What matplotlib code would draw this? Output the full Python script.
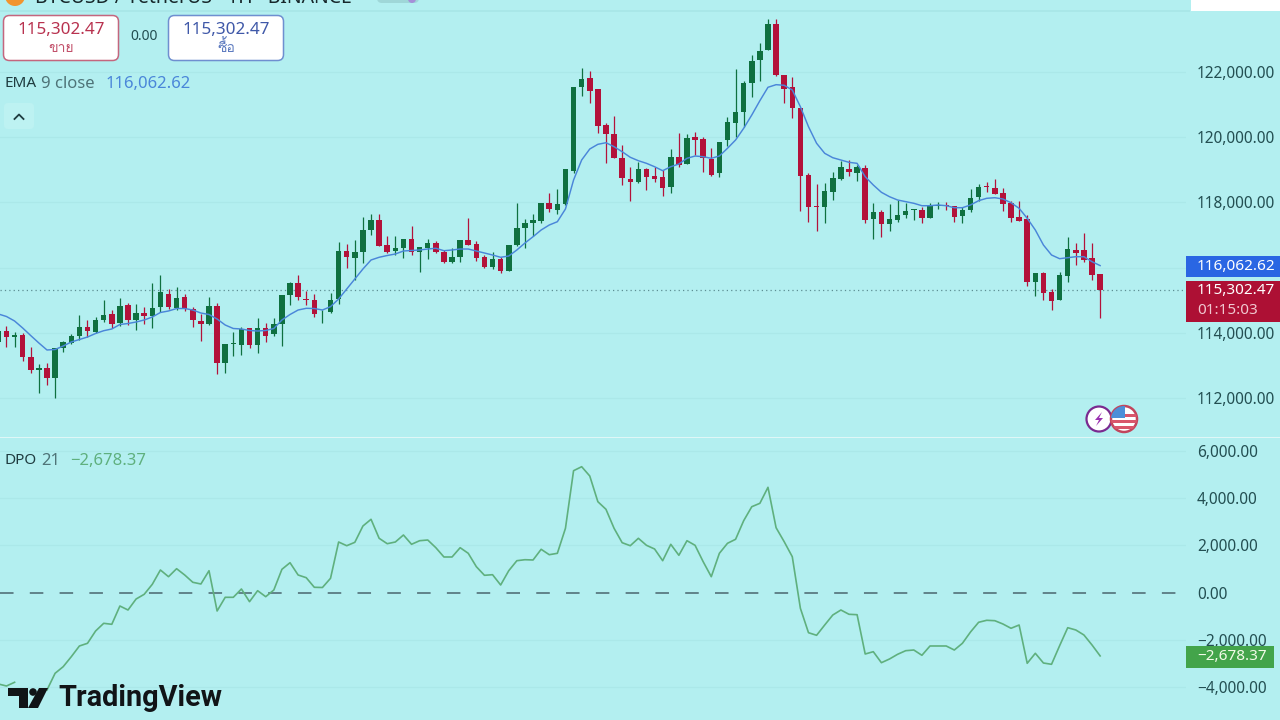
import numpy as np
import matplotlib
matplotlib.use('Agg')
import matplotlib.pyplot as plt
from matplotlib import font_manager
from matplotlib.ft2font import FT2Font
from matplotlib.patches import Circle, FancyBboxPatch, Polygon, Rectangle

# look for any installed family that carries Thai letters
thai_fonts = []
for fe in font_manager.fontManager.ttflist:
    try:
        if 0x0E02 in FT2Font(fe.fname).get_charmap() and fe.name not in thai_fonts:
            thai_fonts.append(fe.name)
    except Exception:
        pass
plt.rcParams['font.family'] = ['Noto Sans'] + thai_fonts[:1] + ['DejaVu Sans']

opens = [113720, 114060, 113860, 113940, 113270, 112860, 112910, 112610, 113540, 113700,
         113900, 114180, 114040, 114390, 114570, 114290, 114860, 114390, 114610, 114520,
         114780, 115200, 114750, 115100, 114740, 114370, 114260, 114820, 113070, 113660,
         113630, 114140, 113630, 114140, 113960, 114260, 115160, 115530, 115040, 115010,
         114600, 114630, 115030, 116500, 116300, 116490, 117150, 117460, 116690, 116510,
         116600, 116890, 116490, 116590, 116760, 116490, 116170, 116320, 116860, 116730,
         116320, 116030, 116260, 115900, 116690, 117210, 117370, 117440, 117980, 117770,
         117950, 118970, 121530, 121830, 121470, 120380, 120100, 119360, 118710, 118630,
         119010, 118810, 118780, 118470, 119400, 119170, 120010, 119940, 119340, 118890,
         119900, 120450, 120760, 121650, 122370, 122660, 123480, 121920, 121530, 120910,
         118840, 117890, 117870, 118330, 118720, 119020, 118900, 119050, 117480, 117720,
         117340, 117460, 117610, 117780, 117780, 117530, 117890, 117910, 117880, 117570,
         117770, 118170, 118490, 118450, 118280, 117990, 117540, 117490, 115550, 115840,
         115250, 115020, 115750, 116530, 116530, 116300, 115800]
highs = [114150, 114210, 114040, 113990, 113570, 113040, 113080, 113540, 113750, 113960,
         114550, 114390, 114480, 115010, 114700, 115080, 114910, 114880, 114800, 115540,
         115770, 115340, 115400, 115180, 114780, 114580, 115090, 114910, 113670, 114020,
         114190, 114150, 114450, 114290, 114450, 115170, 115570, 115770, 115280, 115180,
         114700, 115210, 116800, 116720, 116850, 117560, 117640, 117640, 116970, 116970,
         116890, 117290, 116640, 116870, 116820, 116540, 116590, 116850, 117530, 116820,
         116390, 116490, 116320, 116690, 117990, 117480, 117640, 117980, 118280, 118410,
         119030, 121540, 122110, 122040, 121490, 120430, 120660, 119760, 119080, 119250,
         119050, 119080, 118990, 119630, 120130, 120100, 120150, 120020, 119660, 119860,
         120630, 122080, 121720, 122520, 122880, 123630, 123630, 121920, 121860, 120910,
         118890, 118560, 118600, 118940, 119280, 119300, 119150, 119150, 117990, 117770,
         117940, 118070, 117990, 117800, 117870, 117970, 118020, 118020, 117900, 117850,
         118400, 118560, 118620, 118710, 118430, 118050, 118050, 117610, 115830, 115880,
         115350, 115880, 116930, 116760, 117050, 116760, 115800]
lows = [113660, 113570, 113560, 113150, 112760, 112150, 112390, 111990, 113420, 113660,
        113780, 113880, 113990, 114340, 114140, 114210, 114240, 114090, 114260, 114160,
        114650, 114730, 114700, 114680, 114190, 113750, 114240, 112730, 112760, 113300,
        113320, 113530, 113390, 113710, 113900, 113600, 114850, 115010, 114850, 114500,
        114310, 114600, 114880, 115990, 115620, 116130, 117000, 116670, 116460, 116390,
        116300, 116390, 115880, 116270, 116460, 116150, 116150, 116170, 116690, 116210,
        115980, 115950, 115830, 115900, 116660, 116610, 116970, 117380, 117720, 117640,
        117930, 118900, 121270, 121040, 120120, 119220, 119360, 118540, 118040, 118590,
        118380, 118630, 118200, 118280, 119080, 119170, 119450, 118920, 118820, 118790,
        119720, 120010, 120320, 121220, 121730, 122660, 121880, 121040, 120580, 117730,
        117400, 117130, 117380, 118070, 118690, 118810, 118670, 117380, 116880, 116930,
        117130, 117410, 117530, 117460, 117360, 117510, 117790, 117770, 117400, 117370,
        117700, 118050, 118330, 118250, 117740, 117410, 117430, 115450, 115140, 115010,
        114700, 115010, 115550, 116080, 116180, 115620, 114450]
closes = [114060, 113860, 113940, 113270, 112860, 112910, 112610, 113530, 113710, 113900,
          114170, 114070, 114390, 114560, 114270, 114820, 114390, 114600, 114520, 114760,
          115240, 114780, 115070, 114730, 114390, 114280, 114830, 113070, 113670, 113680,
          114130, 113620, 114140, 113910, 114260, 115160, 115530, 115090, 115020, 114580,
          114620, 115000, 116520, 116340, 116490, 117150, 117450, 116670, 116480, 116590,
          116890, 116480, 116620, 116750, 116480, 116170, 116320, 116850, 116690, 116300,
          116030, 116260, 115900, 116690, 117210, 117380, 117450, 117970, 117800, 117950,
          119020, 121530, 121790, 121410, 120350, 120090, 119360, 118740, 118640, 119010,
          118770, 118720, 118430, 119390, 119150, 119970, 119920, 119350, 118850, 119860,
          120470, 120760, 121650, 122350, 122650, 123480, 121910, 121490, 120890, 118800,
          117870, 117860, 118350, 118740, 119080, 118930, 119080, 117460, 117720, 117340,
          117480, 117610, 117750, 117800, 117530, 117890, 117910, 117880, 117560, 117780,
          118150, 118480, 118460, 118260, 117960, 117530, 117440, 115550, 115830, 115210,
          114990, 115770, 116560, 116450, 116230, 115770, 115302.47]
ema9 = [114578, 114501, 114363, 114148, 113915, 113688, 113474, 113489, 113596, 113719,
        113796, 113872, 113980, 114065, 114118, 114256, 114286, 114332, 114394, 114486,
        114624, 114670, 114746, 114746, 114700, 114608, 114562, 114424, 114240, 114133,
        114118, 114072, 114056, 114072, 114133, 114394, 114562, 114700, 114752, 114746,
        114700, 114802, 115038, 115344, 115651, 115958, 116234, 116317, 116372, 116418,
        116510, 116525, 116541, 116571, 116593, 116519, 116541, 116571, 116571, 116510,
        116448, 116387, 116317, 116356, 116541, 116755, 116948, 117154, 117307, 117408,
        117798, 118687, 119301, 119638, 119782, 119831, 119709, 119555, 119384, 119279,
        119199, 119095, 118973, 119095, 119178, 119353, 119423, 119402, 119353, 119423,
        119660, 119914, 120273, 120681, 121120, 121531, 121611, 121592, 121448, 120935,
        120322, 119813, 119506, 119371, 119301, 119230, 119199, 118789, 118534, 118310,
        118175, 118074, 118022, 117973, 117899, 117899, 117921, 117899, 117838, 117838,
        117921, 118053, 118126, 118144, 118105, 117991, 117819, 117513, 117154, 116694,
        116387, 116274, 116304, 116335, 116335, 116182, 116062.62]
dpo21 = [-3868, -3953, -3796, np.nan, np.nan, np.nan, -4123, -3415, -3135, -2712,
         -2258, -2144, -1623, -1297, -1339, -564, -733, -267, -68, 356,
         962, 678, 1017, 750, 441, 369, 932, -775, -195, -195,
         157, -381, 85, -169, 114, 991, 1271, 750, 636, 229,
         220, 610, 2148, 1991, 2135, 2826, 3110, 2305, 2076, 2148,
         2445, 2051, 2203, 2233, 1907, 1513, 1513, 1907, 1669, 1102,
         737, 763, 326, 932, 1356, 1398, 1386, 1839, 1610, 1669,
         2729, 5169, 5339, 4945, 3856, 3534, 2729, 2119, 1991, 2305,
         2008, 1852, 1356, 2051, 1585, 2203, 2008, 1313, 678, 1669,
         2093, 2263, 3051, 3644, 3788, 4466, 2754, 2161, 1525, -661,
         -1695, -1805, -1369, -945, -733, -915, -932, -2597, -2500, -2966,
         -2809, -2610, -2457, -2428, -2652, -2258, -2258, -2258, -2428, -2144,
         -1665, -1254, -1169, -1186, -1326, -1508, -1369, -2991, -2568, -2979,
         -3034, -2246, -1483, -1580, -1792, -2216, -2678.37]

price_ticks = [112000, 114000, 118000, 120000, 122000]
price_grid = [112000, 114000, 116000, 118000, 120000, 122000]
dpo_ticks = [-4000, -2000, 0, 2000, 4000, 6000]

bg = '#b3eff0'
grid_col = '#abe8e9'
up = '#0f7040'
down = '#b3123a'
txt = '#234f52'
W, H = 1280, 720


def fmt(v):
    return f'{v:,.2f}'.replace('-', '\u2212')


fig = plt.figure(figsize=(12.8, 7.2), dpi=100, facecolor=bg)
ax_p = fig.add_axes([0, 1 - 436 / H, 1186 / W, 436 / H], facecolor=bg)
ax_d = fig.add_axes([0, 0, 1186 / W, 1 - 438 / H], facecolor=bg)

idx = np.arange(len(closes))
o = np.array(opens, dtype=float)
c = np.array(closes, dtype=float)
is_up = c >= o
colors = [up if u else down for u in is_up]

# price pane
ax_p.vlines(idx, lows, highs, colors=colors, linewidth=0.9, zorder=2)
ax_p.bar(idx, np.abs(c - o), bottom=np.minimum(o, c), width=0.68, color=colors, zorder=3)
ax_p.plot(idx, ema9, color='#4a86d9', linewidth=1.05, zorder=4)
ax_p.axhline(closes[-1], color='#5d8f93', linewidth=0.9, linestyle=(0, (1, 2.5)), zorder=1)
for g in price_grid:
    ax_p.axhline(g, color=grid_col, linewidth=0.9, zorder=0)
ax_p.set_xlim(0.2, 146.6)
ax_p.set_ylim(110836, 124208)
ax_p.set_yticks(price_ticks)
ax_p.set_yticklabels([fmt(v) for v in price_ticks])

# DPO pane
ax_d.plot(idx, dpo21, color='#5fb07e', linewidth=1.2, zorder=3)
ax_d.axhline(0, color='#5a7a82', linewidth=1.3, linestyle=(0, (7.5, 9)), zorder=2)
for g in dpo_ticks:
    if g != 0:
        ax_d.axhline(g, color=grid_col, linewidth=0.9, zorder=0)
ax_d.set_xlim(0.2, 146.6)
ax_d.set_ylim(-5394, 6555)
ax_d.set_yticks(dpo_ticks)
ax_d.set_yticklabels([fmt(v) for v in dpo_ticks])

for ax in (ax_p, ax_d):
    for s in ax.spines.values():
        s.set_visible(False)
    ax.set_xticks([])
    ax.yaxis.tick_right()
    ax.tick_params(axis='y', length=0, pad=8, labelsize=11.1, labelcolor=txt)

# overlay in pixel coordinates for the tags, buttons and logo
ov = fig.add_axes([0, 0, 1, 1], facecolor='none')
ov.set_xlim(0, W)
ov.set_ylim(H, 0)
ov.axis('off')

ov.add_patch(Rectangle((0, 436.5), W, 1.8, color='#dff7f7', lw=0))
ov.add_patch(Rectangle((0, 10), 1190, 1.5, color='#a9e7e8', lw=0))

# cut off header strip
ov.add_patch(Circle((15, -4), 10, color='#f2952f', lw=0))
ov.text(35, -2, 'BTCUSD / TetherUS \u00b7 1H \u00b7 BINANCE', fontsize=14, color='#17282b',
        va='center', ha='left')
ov.add_patch(FancyBboxPatch((377, -8), 42, 11, boxstyle='round,pad=0,rounding_size=5',
                            fc='#9fd7d8', ec='none'))
ov.add_patch(Circle((412, -1), 4, color='#a58fd8', lw=0))
ov.add_patch(Rectangle((1191, 0), 89, 10.5, color='white', lw=0))

# sell / buy buttons
ov.add_patch(FancyBboxPatch((3.5, 15.5), 115, 45, boxstyle='round,pad=0,rounding_size=6',
                            fc='white', ec='#c4667e', lw=1.1))
ov.add_patch(FancyBboxPatch((168.5, 15.5), 115, 45, boxstyle='round,pad=0,rounding_size=6',
                            fc='white', ec='#6f8fd0', lw=1.1))
ov.text(61, 30, fmt(closes[-1]), fontsize=12.3, color='#b8324f', ha='center', va='center',
        fontweight='medium')
ov.text(61, 48, '\u0e02\u0e32\u0e22', fontsize=10, color='#c2506a', ha='center', va='center')
ov.text(226, 30, fmt(closes[-1]), fontsize=12.3, color='#3f58a8', ha='center', va='center',
        fontweight='medium')
ov.text(226, 48, '\u0e0b\u0e37\u0e49\u0e2d', fontsize=10, color='#5f7cc0', ha='center', va='center')
ov.text(144, 37, '0.00', fontsize=10, color=txt, ha='center', va='center')

# legends
ov.text(4, 83.5, 'EMA', fontsize=11, color='#1f3c40', va='center')
ov.text(41, 83.5, '9 close', fontsize=12, color='#4f7478', va='center')
ov.text(106, 83.5, fmt(ema9[-1]), fontsize=12, color='#4a86d9', va='center')
ov.add_patch(FancyBboxPatch((4, 103), 30, 26, boxstyle='round,pad=0,rounding_size=4',
                            fc='#bdf2f2', ec='none'))
ov.plot([14.5, 19, 23.5], [119, 114.5, 119], color='#1f3c40', lw=1.3)
ov.text(4, 461, 'DPO', fontsize=11, color='#1f3c40', va='center')
ov.text(41, 461, '21', fontsize=12, color='#4f7478', va='center')
ov.text(70, 461, fmt(dpo21[-1]), fontsize=12, color='#5fb07e', va='center')

# scale tags
ov.add_patch(Rectangle((1186, 256), 94, 21, color='#2a66e3', lw=0))
ov.text(1197, 266.5, fmt(ema9[-1]), fontsize=11, color='white', va='center', fontweight='bold')
ov.add_patch(Rectangle((1186, 281), 94, 41, color='#ad1034', lw=0))
ov.text(1197, 291, fmt(closes[-1]), fontsize=11, color='white', va='center', fontweight='bold')
ov.text(1197, 310, '01:15:03', fontsize=11, color='#f0c8d0', va='center')
ov.add_patch(Rectangle((1186, 646), 88, 22, color='#43a44a', lw=0))
ov.text(1197, 656.5, fmt(dpo21[-1]), fontsize=11, color='#f2fbe8', va='center', fontweight='bold')

# event badges
ov.add_patch(Circle((1099, 419), 12.5, fc='white', ec='#7a2a90', lw=1.6))
ov.add_patch(Polygon([(1102, 412), (1095, 420), (1099, 420), (1096, 426), (1103, 418), (1099, 418)],
                     color='#9a30b0', lw=0))
flag = Circle((1124, 419), 13, fc='white', ec='#c2455c', lw=1.8, zorder=3)
ov.add_patch(flag)
for top in (414, 420, 426):
    st = Rectangle((1110, top), 28, 3, color='#d9566b', lw=0, zorder=4)
    ov.add_patch(st)
    st.set_clip_path(flag)
canton = Rectangle((1110, 406), 15, 12, color='#4c8fd8', lw=0, zorder=5)
ov.add_patch(canton)
canton.set_clip_path(flag)

# logo
ov.add_patch(Polygon([(8, 688), (28, 688), (28, 708), (19, 708), (19, 696), (8, 696)], color='#111417', lw=0))
ov.add_patch(Circle((33, 692), 3.8, color='#111417', lw=0))
ov.add_patch(Polygon([(39, 688), (48, 688), (38, 708), (28, 708)], color='#111417', lw=0))
ov.text(58, 698, 'TradingView', fontsize=20.8, color='#111417', family='Roboto', fontweight='bold',
        va='center', ha='left')

fig.savefig('out.png', dpi=100, facecolor=bg)
